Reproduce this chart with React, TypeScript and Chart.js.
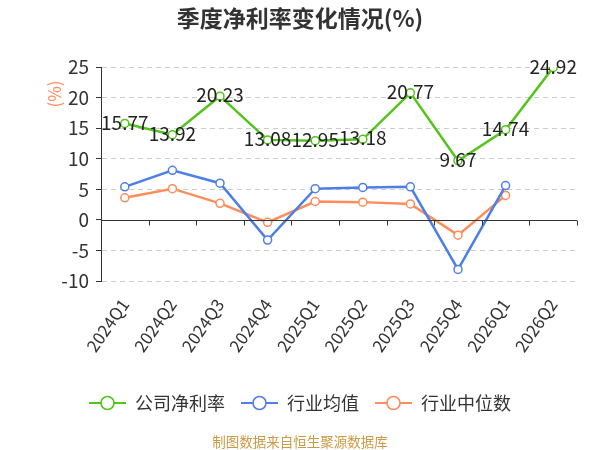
import React, { useEffect, useRef } from "react";
import { Chart, registerables } from "chart.js";

Chart.register(...registerables);

const categories = ["2024Q1", "2024Q2", "2024Q3", "2024Q4", "2025Q1", "2025Q2", "2025Q3", "2025Q4", "2026Q1", "2026Q2"];
const companyNetMargin = [15.77, 13.92, 20.23, 13.08, 12.95, 13.18, 20.77, 9.67, 14.74, 24.92];
const industryAverage = [5.4, 8.1, 6.0, -3.3, 5.1, 5.3, 5.4, -8.1, 5.6, null];
const industryMedian = [3.6, 5.1, 2.7, -0.4, 3.0, 2.9, 2.6, -2.5, 4.0, null];
const seriesNames = ["公司净利率", "行业均值", "行业中位数"];
const seriesColors = ["#52c41a", "#4e7fe6", "#ff8c5a"];
const titleText = "季度净利率变化情况(%)";
const footerText = "制图数据来自恒生聚源数据库";
const yMin = -10;
const yMax = 25;
const yStep = 5;

const FONT = '"Noto Sans CJK SC", "Noto Sans", sans-serif';

const decorPlugin = {
  id: "decor",
  afterDatasetsDraw(chart: any) {
    const ctx = chart.ctx;
    const area = chart.chartArea;
    const xs = chart.scales.x;
    const ys = chart.scales.y;
    const y0 = Math.round(ys.getPixelForValue(0)) + 0.5;
    ctx.save();
    ctx.strokeStyle = "#333";
    ctx.lineWidth = 1;
    ctx.setLineDash([]);
    ctx.beginPath();
    ctx.moveTo(area.left, y0);
    ctx.lineTo(area.right, y0);
    const n = chart.data.labels.length;
    const half = (xs.getPixelForValue(1) - xs.getPixelForValue(0)) / 2;
    for (let i = 0; i <= n; i++) {
      const px = Math.round(xs.getPixelForValue(0) - half + i * half * 2) + 0.5;
      ctx.moveTo(px, y0);
      ctx.lineTo(px, y0 + 5);
    }
    ctx.stroke();
    ctx.restore();
  },
  afterDraw(chart: any) {
    const ctx = chart.ctx;
    const area = chart.chartArea;
    const W = chart.width;
    ctx.save();
    // value labels for company series
    const meta = chart.getDatasetMeta(0);
    ctx.font = `19px ${FONT}`;
    ctx.fillStyle = "#222";
    ctx.textAlign = "center";
    ctx.textBaseline = "middle";
    meta.data.forEach((pt: any, i: number) => {
      const v = chart.data.datasets[0].data[i];
      if (v == null) return;
      ctx.fillText(v.toFixed(2), pt.x, pt.y - 1);
    });
    // title
    ctx.font = `bold 23px ${FONT}`;
    ctx.fillStyle = "#333";
    ctx.fillText(titleText, W / 2, 18);
    // y axis name
    ctx.save();
    ctx.translate(55, 94);
    ctx.rotate(-Math.PI / 2);
    ctx.font = `17px ${FONT}`;
    ctx.fillStyle = "#ff8c5a";
    ctx.fillText("(%)", 0, 0);
    ctx.restore();
    // legend
    ctx.font = `18px ${FONT}`;
    const symW = 37;
    const gapSymText = 9;
    const gapItems = 16;
    const items = chart.data.datasets.map((d: any) => ({
      label: d.label,
      color: d.borderColor,
      w: symW + gapSymText + ctx.measureText(d.label).width,
    }));
    const total = items.reduce((s: number, it: any) => s + it.w, 0) + gapItems * (items.length - 1);
    let x = W / 2 - total / 2;
    const ly = 403;
    items.forEach((it: any) => {
      ctx.strokeStyle = it.color;
      ctx.lineWidth = 2;
      ctx.beginPath();
      ctx.moveTo(x, ly);
      ctx.lineTo(x + symW, ly);
      ctx.stroke();
      ctx.beginPath();
      ctx.arc(x + symW / 2, ly, 6.5, 0, Math.PI * 2);
      ctx.fillStyle = "#fff";
      ctx.fill();
      ctx.lineWidth = 1.6;
      ctx.stroke();
      ctx.fillStyle = "#333";
      ctx.textAlign = "left";
      ctx.fillText(it.label, x + symW + gapSymText, ly);
      x += it.w + gapItems;
    });
    // footer
    ctx.textAlign = "center";
    ctx.font = `13.5px ${FONT}`;
    ctx.fillStyle = "#cc9a44";
    ctx.fillText(footerText, W / 2, 442);
    ctx.restore();
  },
};

export default function App() {
  const canvasRef = useRef<HTMLCanvasElement | null>(null);
  useEffect(() => {
    if (!canvasRef.current) return;
    const mk = (i: number, data: any[]) => ({
      label: seriesNames[i],
      data,
      borderColor: seriesColors[i],
      backgroundColor: "#fff",
      pointBackgroundColor: "#fff",
      pointBorderColor: seriesColors[i],
      pointBorderWidth: 1.5,
      pointRadius: 4,
      borderWidth: 2.5,
      tension: 0,
      spanGaps: false,
    });
    const chart = new Chart(canvasRef.current, {
      type: "line",
      data: {
        labels: categories,
        datasets: [mk(0, companyNetMargin), mk(1, industryAverage), mk(2, industryMedian)],
      },
      options: {
        animation: false,
        responsive: false,
        devicePixelRatio: 1,
        layout: { padding: { top: 67, left: 0, right: 23, bottom: 0 } },
        plugins: {
          legend: { display: false },
          title: { display: false },
          tooltip: { enabled: false },
        },
        scales: {
          x: {
            offset: true,
            grid: { display: false },
            border: { display: false },
            ticks: {
              color: "#333",
              font: { size: 17, family: FONT },
              maxRotation: 55,
              minRotation: 55,
              padding: 6,
              autoSkip: false,
            },
            afterFit: (s: any) => {
              s.height = 169;
            },
          },
          y: {
            min: yMin,
            max: yMax,
            ticks: {
              stepSize: yStep,
              color: "#333",
              font: { size: 19, family: FONT },
              padding: 7,
            },
            grid: {
              color: (c: any) => (c.tick && c.tick.value === 0 ? "rgba(0,0,0,0)" : "#cccccc"),
              tickColor: "#333",
              tickLength: 5,
              tickBorderDash: [],
            } as any,
            border: { display: true, color: "#333", width: 1, dash: [5, 4] } as any,
            afterFit: (s: any) => {
              s.width = 101;
            },
          },
        },
      },
      plugins: [decorPlugin],
    } as any);
    return () => chart.destroy();
  }, []);
  return (
    <div style={{ position: "fixed", left: 0, top: 0, width: 600, height: 450, background: "#fff" }}>
      <canvas ref={canvasRef} width={600} height={450} style={{ width: 600, height: 450 }} />
    </div>
  );
}
